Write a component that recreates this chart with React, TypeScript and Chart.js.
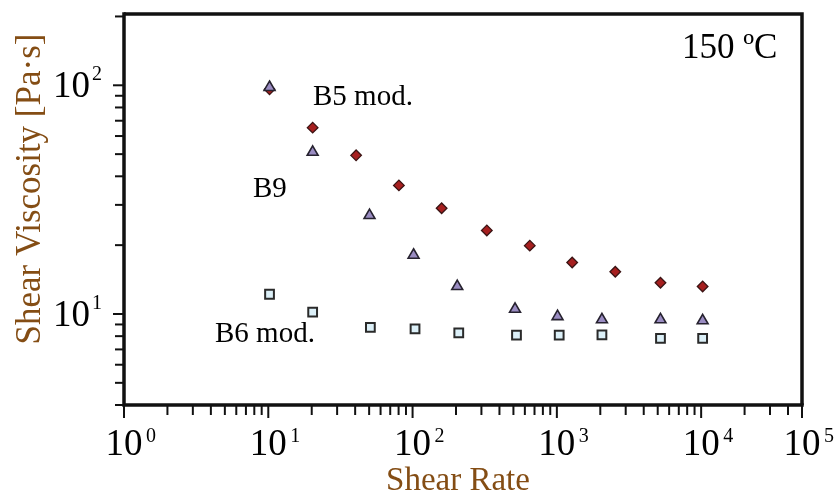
import React, { useEffect, useRef } from 'react';
import { Chart, registerables } from 'chart.js';

Chart.register(...registerables);

// ---- data ----
const b5X = [10.2, 20.3, 40.6, 80.4, 159, 327, 649, 1277, 2540, 5226, 10240];
const b5Y = [96, 65.3, 49.4, 36.5, 29.0, 23.2, 19.9, 16.8, 15.3, 13.7, 13.2];

const b9X = [10.2, 20.3, 50.3, 101.6, 204, 513, 1011, 2053, 5226, 10240];
const b9Y = [98, 51.0, 27.0, 18.1, 13.2, 10.5, 9.75, 9.45, 9.45, 9.35];

const b6X = [10.2, 20.3, 51, 104, 209, 525, 1038, 2053, 5226, 10240];
const b6Y = [12.2, 10.2, 8.74, 8.6, 8.26, 8.09, 8.09, 8.1, 7.82, 7.82];

const xMin = 1;
const xMax = 50000;
const yMin = 4;
const yMax = 205;

const xMajorTicks = [1, 10, 100, 1000, 10000, 50000];
const xMajorExponents = ['0', '1', '2', '3', '4', '5'];
const yMajorTicks = [10, 100];
const yMajorExponents = ['1', '2'];

const xTitle = 'Shear Rate';
const yTitle = 'Shear Viscosity [Pa·s]';
const tempLabel = '150 ºC';
const seriesLabels = ['B5 mod.', 'B9', 'B6 mod.'];

const SERIF = '"Liberation Serif", "Times New Roman", serif';
const TITLE_COLOR = '#844d14';
const AXIS_COLOR = '#111111';

function minorTicks(min: number, max: number, majors: number[]): number[] {
  const out: number[] = [];
  for (let d = 1; d <= max; d *= 10) {
    for (let m = 1; m <= 9; m++) {
      const v = m * d;
      if (v >= min && v <= max && !majors.includes(v)) out.push(v);
    }
  }
  return out;
}

const axesPlugin = {
  id: 'customAxes',
  beforeDatasetsDraw(chart: any) {
    const { ctx, chartArea } = chart;
    const xs = chart.scales.x;
    const ys = chart.scales.y;
    const { left, right, top, bottom } = chartArea;
    ctx.save();
    ctx.strokeStyle = AXIS_COLOR;
    ctx.lineCap = 'butt';

    // frame
    ctx.lineWidth = 3.5;
    ctx.beginPath();
    ctx.moveTo(left, top);
    ctx.lineTo(right, top);
    ctx.lineTo(right, bottom);
    ctx.stroke();
    ctx.beginPath();
    ctx.moveTo(left, top - 1.75);
    ctx.lineTo(left, bottom);
    ctx.lineTo(right + 1.75, bottom);
    ctx.stroke();

    // x ticks
    ctx.lineWidth = 2;
    for (const v of xMajorTicks) {
      const px = xs.getPixelForValue(v);
      ctx.beginPath();
      ctx.moveTo(px, bottom);
      ctx.lineTo(px, bottom + 13);
      ctx.stroke();
    }
    for (const v of minorTicks(xMin, xMax, xMajorTicks)) {
      const px = xs.getPixelForValue(v);
      ctx.beginPath();
      ctx.moveTo(px, bottom);
      ctx.lineTo(px, bottom + 10);
      ctx.stroke();
    }
    // y ticks
    for (const v of yMajorTicks) {
      const py = ys.getPixelForValue(v);
      ctx.beginPath();
      ctx.moveTo(left, py);
      ctx.lineTo(left - 11, py);
      ctx.stroke();
    }
    for (const v of minorTicks(yMin, yMax, yMajorTicks)) {
      const py = ys.getPixelForValue(v);
      ctx.beginPath();
      ctx.moveTo(left, py);
      ctx.lineTo(left - 9, py);
      ctx.stroke();
    }
    ctx.restore();
  },
  afterDraw(chart: any) {
    const { ctx, chartArea } = chart;
    const xs = chart.scales.x;
    const ys = chart.scales.y;
    const { left, bottom } = chartArea;
    ctx.save();
    ctx.fillStyle = '#000';
    ctx.textBaseline = 'alphabetic';

    // x tick labels
    xMajorTicks.forEach((v, i) => {
      const px = xs.getPixelForValue(v);
      ctx.font = `37px ${SERIF}`;
      ctx.textAlign = 'center';
      ctx.fillText('10', px, bottom + 50);
      ctx.font = `20px ${SERIF}`;
      ctx.textAlign = 'left';
      ctx.fillText(xMajorExponents[i], px + 22, bottom + 37);
    });
    // y tick labels
    yMajorTicks.forEach((v, i) => {
      const py = ys.getPixelForValue(v);
      ctx.font = `37px ${SERIF}`;
      ctx.textAlign = 'right';
      ctx.fillText('10', left - 34, py + 12);
      ctx.font = `20px ${SERIF}`;
      ctx.textAlign = 'left';
      ctx.fillText(yMajorExponents[i], left - 32, py - 5);
    });

    // axis titles
    ctx.fillStyle = TITLE_COLOR;
    ctx.font = `33px ${SERIF}`;
    ctx.textAlign = 'center';
    ctx.fillText(xTitle, 458, 490);

    ctx.save();
    ctx.translate(40, 189);
    ctx.rotate(-Math.PI / 2);
    ctx.font = `35px ${SERIF}`;
    ctx.textAlign = 'center';
    ctx.fillText(yTitle, 0, 0);
    ctx.restore();

    // annotations
    ctx.fillStyle = '#000';
    ctx.font = `29px ${SERIF}`;
    ctx.textAlign = 'left';
    ctx.fillText(seriesLabels[0], 313, 105);
    ctx.fillText(seriesLabels[1], 253, 197);
    ctx.fillText(seriesLabels[2], 215, 342);
    ctx.font = `35px ${SERIF}`;
    ctx.fillText(tempLabel, 682, 58);
    ctx.restore();
  },
};

function pts(xs: number[], ys: number[]) {
  return xs.map((x, i) => ({ x, y: ys[i] }));
}

export default function App() {
  const ref = useRef<HTMLCanvasElement | null>(null);
  useEffect(() => {
    if (!ref.current) return;
    const chart = new Chart(ref.current, {
      type: 'scatter',
      data: {
        datasets: [
          {
            label: seriesLabels[1],
            data: pts(b9X, b9Y),
            pointStyle: 'triangle',
            pointRadius: 6.3,
            backgroundColor: '#9a8cc2',
            borderColor: '#26222f',
            borderWidth: 1.6,
            order: 0,
          },
          {
            label: seriesLabels[0],
            data: pts(b5X, b5Y),
            pointStyle: 'rectRot',
            pointRadius: 5.3,
            backgroundColor: '#a61f1f',
            borderColor: '#3a1414',
            borderWidth: 1.3,
            order: 1,
          },
          {
            label: seriesLabels[2],
            data: pts(b6X, b6Y),
            pointStyle: 'rect',
            pointRadius: 6.2,
            backgroundColor: '#dcf0f8',
            borderColor: '#2a2a2a',
            borderWidth: 2,
            order: 2,
          },
        ],
      },
      options: {
        animation: false,
        responsive: false,
        devicePixelRatio: 1,
        layout: { padding: { left: 124, right: 36, top: 14, bottom: 90 } },
        scales: {
          x: { type: 'logarithmic', min: xMin, max: xMax, display: false },
          y: { type: 'logarithmic', min: yMin, max: yMax, display: false },
        },
        plugins: {
          legend: { display: false },
          tooltip: { enabled: false },
        },
      },
      plugins: [axesPlugin],
    });
    return () => chart.destroy();
  }, []);

  return (
    <div style={{ position: 'absolute', left: 0, top: 0, width: 838, height: 495, background: '#fff' }}>
      <canvas ref={ref} width={838} height={495} style={{ display: 'block' }} />
    </div>
  );
}
